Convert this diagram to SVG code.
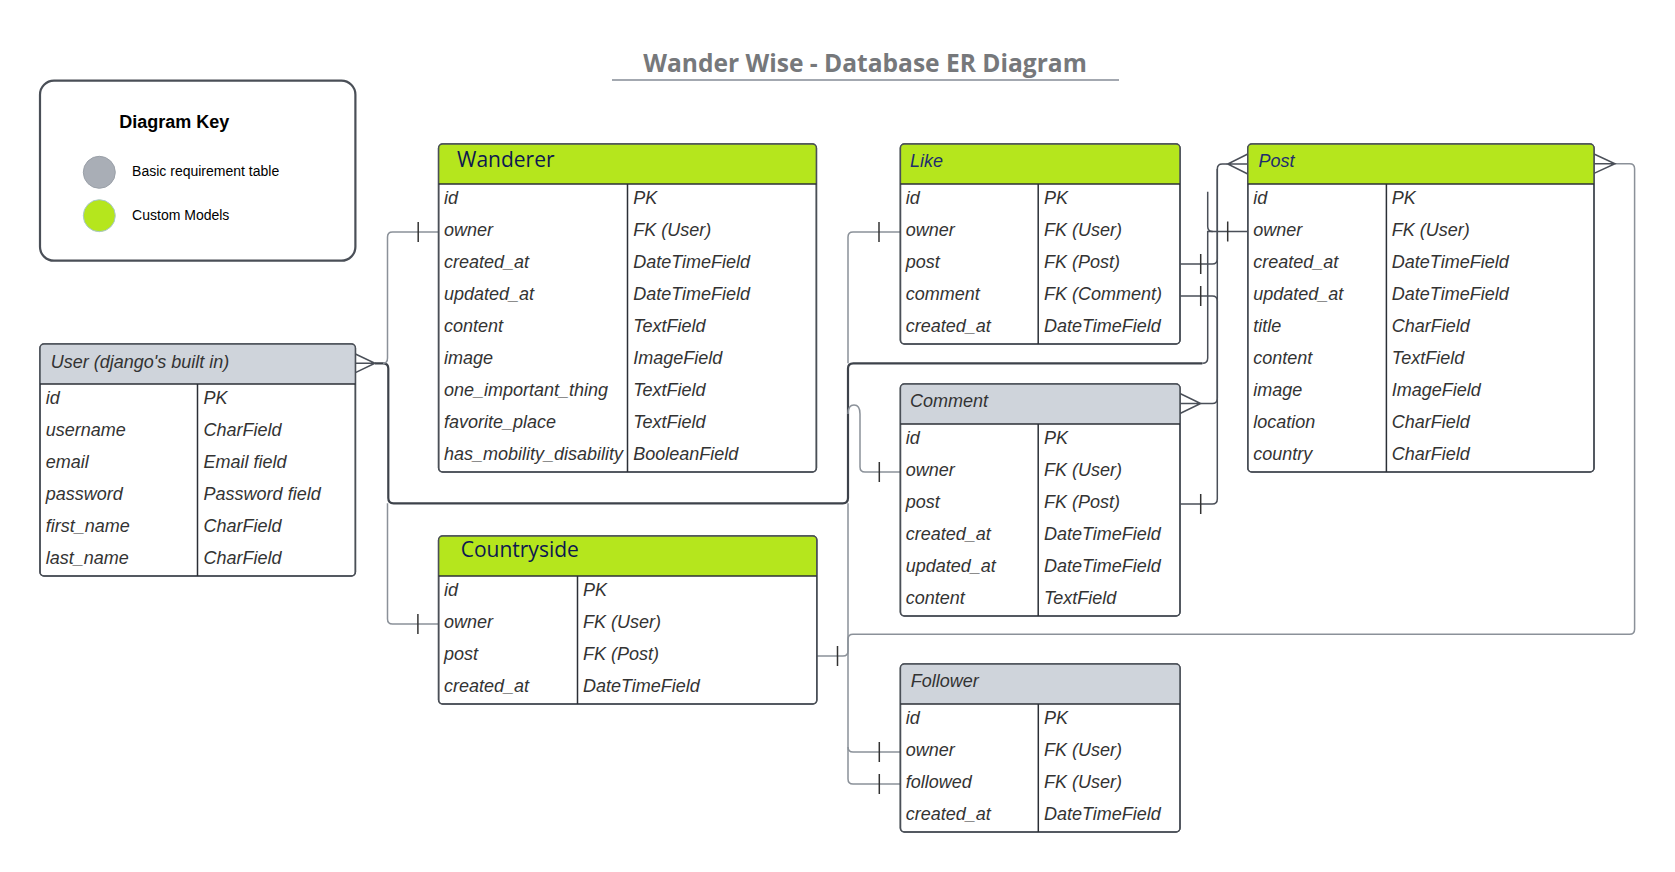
<svg xmlns="http://www.w3.org/2000/svg" width="1675" height="872" viewBox="0 0 1675 872">
<style>
.box{fill:#ffffff;stroke:#4a4f57;stroke-width:1.5}
.hg{fill:#b5e61d}
.hy{fill:#cfd4db}
.sep{stroke:#2b2f36;stroke-width:1.5}
.row{font-family:"Liberation Sans",Arial,sans-serif;font-size:18px;font-style:italic;fill:#333333}
.ht{font-family:"Liberation Sans",Arial,sans-serif;font-size:18px;font-style:italic;fill:#333333}
.hn{font-family:"Liberation Sans",Arial,sans-serif;font-size:18px;font-style:italic;fill:#1f2d6e}
.ho{font-family:"Open Sans",sans-serif;font-size:21px;fill:#0d1850}
.cl{fill:none;stroke:#8b9199;stroke-width:1.5}
.cm{fill:none;stroke:#4a4f58;stroke-width:1.5}
.cd{fill:none;stroke:#3d424a;stroke-width:2.2}
.tk{stroke:#333333;stroke-width:1.5}
</style>
<rect width="1675" height="872" fill="#ffffff"/>
<g id="title">
<text x="643.2" y="72.3" font-family="'Open Sans',sans-serif" font-weight="700" font-size="25" fill="#76787b" textLength="443.6" lengthAdjust="spacingAndGlyphs">Wander Wise - Database ER Diagram</text>
<line x1="612" y1="80" x2="1119" y2="80" stroke="#a3a8b0" stroke-width="2.2"/>
</g>
<g id="key">
<rect x="40" y="80.7" width="315.4" height="180" rx="14" fill="#ffffff" stroke="#4a4f57" stroke-width="2.2"/>
<text x="119.3" y="128.3" font-family="'Liberation Sans',Arial,sans-serif" font-weight="700" font-size="18" fill="#000000">Diagram Key</text>
<circle cx="99.3" cy="172.3" r="16" fill="#a9aeb6" stroke="#9aa0a8" stroke-width="1"/>
<text x="132.1" y="176" font-family="'Liberation Sans',Arial,sans-serif" font-size="14" fill="#000000">Basic requirement table</text>
<circle cx="99.3" cy="215.7" r="16" fill="#b5e61d" stroke="#a8c6cf" stroke-width="1"/>
<text x="132.1" y="219.5" font-family="'Liberation Sans',Arial,sans-serif" font-size="14" fill="#000000">Custom Models</text>
</g>
<g id="connectors">
<!-- User -> Post owner (thick part) -->
<path class="cd" d="M375,363.3 L383,363.3 Q388.3,363.3 388.3,368.6 L388.3,498 Q388.3,503.3 393.6,503.3 L842.7,503.3 Q848,503.3 848,498 L848,368.6 Q848,363.3 853.3,363.3 L1202.4,363.3"/>
<path class="cm" d="M1202.4,363.3 Q1207.7,363.3 1207.7,358 L1207.7,231.5 L1247.8,231.5"/>
<path class="cm" d="M1207.7,191.7 L1207.7,226.5 Q1207.7,231.5 1212.7,231.5"/>
<!-- User -> Wanderer owner -->
<path class="cl" d="M383,363.3 Q387.5,363.3 387.5,358 L387.5,237 Q387.5,232 392.5,232 L438.6,232"/>
<!-- User -> Countryside owner -->
<path class="cl" d="M387.5,503.3 L387.5,619 Q387.5,624 392.5,624 L438.6,624"/>
<!-- User -> Like owner -->
<path class="cl" d="M848,363.3 L848,237 Q848,232 853,232 L900.4,232"/>
<!-- User -> Comment owner -->
<path class="cl" d="M848,414 Q848,405 854,405 Q860,405 860,414 L860,467 Q860,472 865,472 L900.4,472"/>
<!-- User -> Follower owner / followed -->
<path class="cl" d="M848,503.3 L848,747 Q848,752 853,752 L900.4,752"/>
<path class="cl" d="M848,747 L848,779 Q848,784 853,784 L900.4,784"/>
<!-- Post -> Countryside post -->
<path class="cl" d="M816.8,656 L843,656 Q848,656 848,651 L848,639.3 Q848,634.3 853,634.3 L1629.6,634.3 Q1634.6,634.3 1634.6,629.3 L1634.6,168.7 Q1634.6,163.7 1629.6,163.7 L1615,163.7"/>
<!-- Post -> Like post -->
<path class="cm" d="M1227.7,164 L1222.3,164 Q1217.3,164 1217.3,169 L1217.3,259 Q1217.3,264 1212.3,264 L1180,264"/>
<!-- Post -> Comment post -->
<path class="cm" d="M1217.3,169 L1217.3,499 Q1217.3,504 1212.3,504 L1180,504"/>
<!-- Comment -> Like comment -->
<path class="cm" d="M1180,296 L1212.3,296 Q1217.3,296 1217.3,301 L1217.3,398.5 Q1217.3,403.5 1212.3,403.5 L1200.7,403.5"/>
<!-- crow's feet -->
<path class="cm" d="M355.4,354 L375,363.3 L355.4,372.6 M355.4,363.3 L375,363.3"/>
<path class="cm" d="M1247.8,154 L1227.7,164 L1247.8,174 M1247.8,164 L1227.7,164"/>
<path class="cm" d="M1594,154 L1615,163.7 L1594,173.4 M1594,163.7 L1615,163.7"/>
<path class="cm" d="M1180,393.5 L1200.7,403.5 L1180,413.5 M1180,403.5 L1200.7,403.5"/>
<!-- ticks -->
<line class="tk" x1="418.2" y1="222" x2="418.2" y2="242"/>
<line class="tk" x1="417.9" y1="614" x2="417.9" y2="634"/>
<line class="tk" x1="879" y1="222" x2="879" y2="242"/>
<line class="tk" x1="879.3" y1="462" x2="879.3" y2="482"/>
<line class="tk" x1="879.3" y1="742" x2="879.3" y2="762"/>
<line class="tk" x1="879.3" y1="774" x2="879.3" y2="794"/>
<line class="tk" x1="1227.7" y1="221.5" x2="1227.7" y2="241.5"/>
<line class="tk" x1="1200.7" y1="254" x2="1200.7" y2="274"/>
<line class="tk" x1="1200.7" y1="286" x2="1200.7" y2="306"/>
<line class="tk" x1="1200.7" y1="494" x2="1200.7" y2="514"/>
<line class="tk" x1="837.5" y1="646" x2="837.5" y2="666"/>
</g>
<g id="wanderer">
<rect class="box" x="438.6" y="144" width="377.8" height="328" rx="4"/>
<path class="hg" d="M438.6,184 L438.6,148 Q438.6,144 442.6,144 L812.4,144 Q816.4,144 816.4,148 L816.4,184 Z"/>
<rect x="438.6" y="144" width="377.8" height="328" rx="4" fill="none" stroke="#4a4f57" stroke-width="1.5"/>
<line class="sep" x1="438.6" y1="184" x2="816.4" y2="184"/>
<line class="sep" x1="627.5" y1="184" x2="627.5" y2="472"/>
<text class="ho" x="457" y="166.7">Wanderer</text>
<g class="row">
<text x="444" y="204">id</text><text x="633.2" y="204">PK</text>
<text x="444" y="236">owner</text><text x="633.2" y="236">FK (User)</text>
<text x="444" y="268">created_at</text><text x="633.2" y="268">DateTimeField</text>
<text x="444" y="300">updated_at</text><text x="633.2" y="300">DateTimeField</text>
<text x="444" y="332">content</text><text x="633.2" y="332">TextField</text>
<text x="444" y="364">image</text><text x="633.2" y="364">ImageField</text>
<text x="444" y="396">one_important_thing</text><text x="633.2" y="396">TextField</text>
<text x="444" y="428">favorite_place</text><text x="633.2" y="428">TextField</text>
<text x="444" y="460">has_mobility_disability</text><text x="633.2" y="460">BooleanField</text>
</g>
</g>
<g id="like">
<rect class="box" x="900.4" y="144" width="279.6" height="200" rx="4"/>
<path class="hg" d="M900.4,184 L900.4,148 Q900.4,144 904.4,144 L1176,144 Q1180,144 1180,148 L1180,184 Z"/>
<rect x="900.4" y="144" width="279.6" height="200" rx="4" fill="none" stroke="#4a4f57" stroke-width="1.5"/>
<line class="sep" x1="900.4" y1="184" x2="1180" y2="184"/>
<line class="sep" x1="1038.2" y1="184" x2="1038.2" y2="344"/>
<text class="hn" x="910" y="166.7">Like</text>
<g class="row">
<text x="905.7" y="204">id</text><text x="1044" y="204">PK</text>
<text x="905.7" y="236">owner</text><text x="1044" y="236">FK (User)</text>
<text x="905.7" y="268">post</text><text x="1044" y="268">FK (Post)</text>
<text x="905.7" y="300">comment</text><text x="1044" y="300">FK (Comment)</text>
<text x="905.7" y="332">created_at</text><text x="1044" y="332">DateTimeField</text>
</g>
</g>
<g id="post">
<rect class="box" x="1247.8" y="144" width="346.2" height="328" rx="4"/>
<path class="hg" d="M1247.8,184 L1247.8,148 Q1247.8,144 1251.8,144 L1590,144 Q1594,144 1594,148 L1594,184 Z"/>
<rect x="1247.8" y="144" width="346.2" height="328" rx="4" fill="none" stroke="#4a4f57" stroke-width="1.5"/>
<line class="sep" x1="1247.8" y1="184" x2="1594" y2="184"/>
<line class="sep" x1="1386.4" y1="184" x2="1386.4" y2="472"/>
<text class="hn" x="1258.6" y="166.7">Post</text>
<g class="row">
<text x="1253.2" y="204">id</text><text x="1391.8" y="204">PK</text>
<text x="1253.2" y="236">owner</text><text x="1391.8" y="236">FK (User)</text>
<text x="1253.2" y="268">created_at</text><text x="1391.8" y="268">DateTimeField</text>
<text x="1253.2" y="300">updated_at</text><text x="1391.8" y="300">DateTimeField</text>
<text x="1253.2" y="332">title</text><text x="1391.8" y="332">CharField</text>
<text x="1253.2" y="364">content</text><text x="1391.8" y="364">TextField</text>
<text x="1253.2" y="396">image</text><text x="1391.8" y="396">ImageField</text>
<text x="1253.2" y="428">location</text><text x="1391.8" y="428">CharField</text>
<text x="1253.2" y="460">country</text><text x="1391.8" y="460">CharField</text>
</g>
</g>
<g id="user">
<rect class="box" x="40" y="344" width="315.4" height="232" rx="4"/>
<path class="hy" d="M40,384 L40,348 Q40,344 44,344 L351.4,344 Q355.4,344 355.4,348 L355.4,384 Z"/>
<rect x="40" y="344" width="315.4" height="232" rx="4" fill="none" stroke="#4a4f57" stroke-width="1.5"/>
<line class="sep" x1="40" y1="384" x2="355.4" y2="384"/>
<line class="sep" x1="197.5" y1="384" x2="197.5" y2="576"/>
<text class="ht" x="50.7" y="367.7">User (django's built in)</text>
<g class="row">
<text x="45.7" y="404">id</text><text x="203.6" y="404">PK</text>
<text x="45.7" y="436">username</text><text x="203.6" y="436">CharField</text>
<text x="45.7" y="468">email</text><text x="203.6" y="468">Email field</text>
<text x="45.7" y="500">password</text><text x="203.6" y="500">Password field</text>
<text x="45.7" y="532">first_name</text><text x="203.6" y="532">CharField</text>
<text x="45.7" y="564">last_name</text><text x="203.6" y="564">CharField</text>
</g>
</g>
<g id="comment">
<rect class="box" x="900.4" y="384" width="279.6" height="232" rx="4"/>
<path class="hy" d="M900.4,424 L900.4,388 Q900.4,384 904.4,384 L1176,384 Q1180,384 1180,388 L1180,424 Z"/>
<rect x="900.4" y="384" width="279.6" height="232" rx="4" fill="none" stroke="#4a4f57" stroke-width="1.5"/>
<line class="sep" x1="900.4" y1="424" x2="1180" y2="424"/>
<line class="sep" x1="1038.2" y1="424" x2="1038.2" y2="616"/>
<text class="ht" x="910" y="406.7">Comment</text>
<g class="row">
<text x="905.7" y="444">id</text><text x="1044" y="444">PK</text>
<text x="905.7" y="476">owner</text><text x="1044" y="476">FK (User)</text>
<text x="905.7" y="508">post</text><text x="1044" y="508">FK (Post)</text>
<text x="905.7" y="540">created_at</text><text x="1044" y="540">DateTimeField</text>
<text x="905.7" y="572">updated_at</text><text x="1044" y="572">DateTimeField</text>
<text x="905.7" y="604">content</text><text x="1044" y="604">TextField</text>
</g>
</g>
<g id="countryside">
<rect class="box" x="438.6" y="536" width="378.2" height="168" rx="4"/>
<path class="hg" d="M438.6,576 L438.6,540 Q438.6,536 442.6,536 L812.8,536 Q816.8,536 816.8,540 L816.8,576 Z"/>
<rect x="438.6" y="536" width="378.2" height="168" rx="4" fill="none" stroke="#4a4f57" stroke-width="1.5"/>
<line class="sep" x1="438.6" y1="576" x2="816.8" y2="576"/>
<line class="sep" x1="577.5" y1="576" x2="577.5" y2="704"/>
<text class="ho" x="460.7" y="556.7">Countryside</text>
<g class="row">
<text x="444" y="596">id</text><text x="582.9" y="596">PK</text>
<text x="444" y="628">owner</text><text x="582.9" y="628">FK (User)</text>
<text x="444" y="660">post</text><text x="582.9" y="660">FK (Post)</text>
<text x="444" y="692">created_at</text><text x="582.9" y="692">DateTimeField</text>
</g>
</g>
<g id="follower">
<rect class="box" x="900.4" y="664" width="279.6" height="168" rx="4"/>
<path class="hy" d="M900.4,704 L900.4,668 Q900.4,664 904.4,664 L1176,664 Q1180,664 1180,668 L1180,704 Z"/>
<rect x="900.4" y="664" width="279.6" height="168" rx="4" fill="none" stroke="#4a4f57" stroke-width="1.5"/>
<line class="sep" x1="900.4" y1="704" x2="1180" y2="704"/>
<line class="sep" x1="1038.3" y1="704" x2="1038.3" y2="832"/>
<text class="ht" x="910.7" y="687.3">Follower</text>
<g class="row">
<text x="905.7" y="724">id</text><text x="1044" y="724">PK</text>
<text x="905.7" y="756">owner</text><text x="1044" y="756">FK (User)</text>
<text x="905.7" y="788">followed</text><text x="1044" y="788">FK (User)</text>
<text x="905.7" y="820">created_at</text><text x="1044" y="820">DateTimeField</text>
</g>
</g>
</svg>
